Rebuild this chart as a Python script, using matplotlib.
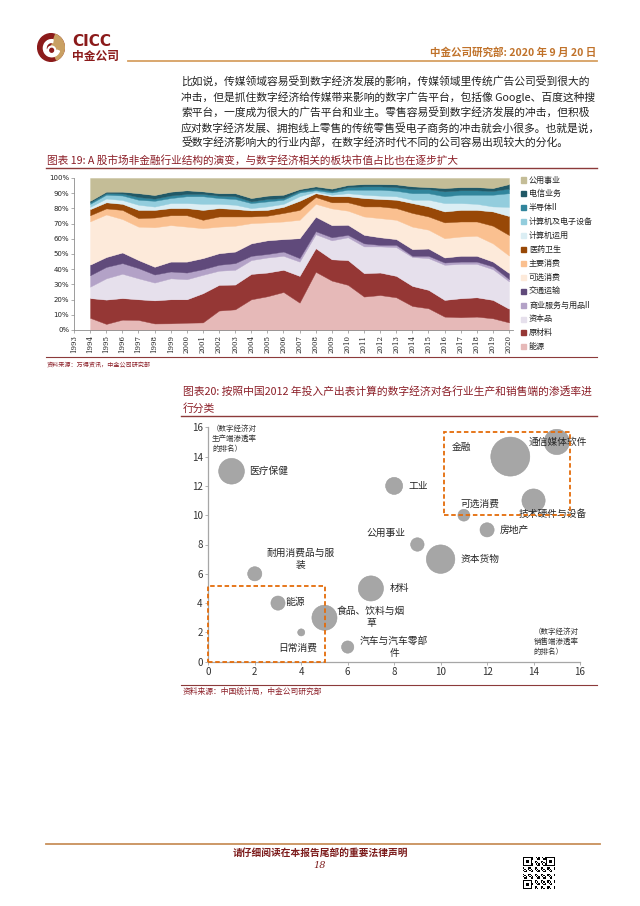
import numpy as np
import matplotlib.pyplot as plt
from matplotlib.patches import Rectangle, Circle, Wedge
from matplotlib.lines import Line2D

plt.rcParams['font.family'] = ['Noto Sans CJK SC', 'DejaVu Sans']

# 页面尺寸 (像素)
W, H = 640, 906
RED = '#8C1F28'
TXT = '#222222'

# ---------------- 图表19 数据: 各行业市值占比的累计上沿 (%) ----------------
years = list(range(1994, 2021))
industries = ['能源', '原材料', '资本品', '商业服务与用品II', '交通运输', '可选消费', '主要消费',
              '医药卫生', '计算机运用', '计算机及电子设备', '半导体II', '电信业务', '公用事业']
top_energy = [8, 4, 6.8, 6.6, 4.3, 4.4, 4.8, 5, 12.8, 13.6, 20.2, 22.2, 25, 18, 38.3, 32.5, 29.7,
              22, 23, 21.5, 15.8, 14.3, 8.8, 8.4, 8.8, 7.7, 5]
top_materials = [21, 20, 21, 20.2, 19.5, 20.2, 20.2, 24.2, 29.7, 29.9, 36.9, 37.8, 39.6, 35.6, 53.8,
                 46.5, 46, 37.4, 37.8, 35.6, 29, 26.4, 19.8, 20.9, 21.5, 19.8, 14]
top_capital = [28.5, 34, 37, 34, 31.2, 34, 33.4, 36.3, 39, 39.6, 46, 47.7, 48.8, 45, 63, 59, 61,
               55, 55, 54.5, 48, 47.3, 42.9, 43.5, 43.5, 40, 32]
top_commercial = [36, 41.5, 44, 40.7, 36.5, 38.5, 37.8, 40, 42.9, 44, 48.8, 50, 51.6, 47.3, 65, 61,
                  62.6, 57, 56, 56, 48.8, 48.8, 44.4, 45, 45, 41.8, 33.5]
top_transport = [43, 48, 51, 46, 41.6, 45, 45, 47.3, 50.5, 51.6, 57, 59, 59.8, 60.4, 74.5, 69, 69.2,
                 62.6, 61, 59.8, 53.2, 53.6, 47.7, 48.8, 48.8, 45, 37.5]
top_discretionary = [71.5, 76, 73, 68, 67.6, 69, 68, 67, 68, 68.6, 70.3, 70.8, 71.4, 72.5, 83, 80,
                     78.5, 74.7, 73.6, 72.5, 68, 66, 60.4, 61.5, 62, 57, 49]
top_staples = [75.5, 80, 79, 73.6, 74, 75.5, 75.5, 72.5, 74.7, 74.7, 74.7, 75.2, 77, 79, 87.5, 84,
               84, 81.3, 81.3, 80.2, 77, 74.7, 70.8, 71.4, 71.4, 68.6, 62.5]
top_health = [79.5, 84, 83, 79, 79, 80.2, 80.2, 79, 80.2, 79.6, 78.7, 79, 81, 85, 90, 88, 88, 86.8,
              86.2, 85.7, 83.5, 81.3, 78, 79, 79, 78, 75]
top_software = [81, 86.5, 85.5, 82.4, 81.2, 83.5, 83.5, 83, 83, 82.4, 80.2, 81.3, 83, 88, 91, 89, 90,
                89, 88.4, 88, 85.7, 85.7, 83.5, 83.5, 83, 81.3, 81]
top_hardware = [83, 89, 88.5, 85.7, 85, 86.8, 88, 88, 86.8, 86.2, 83.5, 84.6, 85.7, 90.5, 92, 90.5,
                92.3, 92.3, 92.3, 91.6, 90, 90, 88, 89, 89, 89, 90]
top_semi = [84, 90, 89.8, 87.5, 86.4, 88.5, 89.5, 89.5, 88.4, 88, 84.6, 86.2, 86.8, 91.6, 93, 91.5,
            94, 94.5, 94.5, 94, 92.7, 92.7, 91.2, 91.9, 91.9, 91.5, 93]
top_telecom = [85, 91, 91, 90, 88.8, 91, 91.9, 91.2, 90, 90, 86.8, 88.4, 89, 92.7, 94.5, 93, 95.4,
               96, 96, 95.8, 94.5, 94, 93.4, 94, 94, 93.4, 96]
top_utilities = [100] * 27
tops = [top_energy, top_materials, top_capital, top_commercial, top_transport, top_discretionary,
        top_staples, top_health, top_software, top_hardware, top_semi, top_telecom, top_utilities]
colors = ['#E6B9B8', '#953735', '#E6E0EC', '#B3A2C7', '#604A7B', '#FDEADA', '#FAC090',
          '#984807', '#DBEEF4', '#93CDDD', '#31859C', '#215967', '#C4BD97']

# ---------------- 图表20 数据 ----------------
bubble_names = ['医疗保健', '耐用消费品与服装', '能源', '日常消费', '食品、饮料与烟草', '汽车与汽车零部件',
                '材料', '工业', '公用事业', '资本货物', '可选消费', '房地产', '金融', '技术硬件与设备',
                '通信媒体软件']
rank_sales = [1, 2, 3, 4, 5, 6, 7, 8, 9, 10, 11, 12, 13, 14, 15]
rank_prod = [13, 6, 4, 2, 3, 1, 5, 12, 8, 7, 10, 9, 14, 11, 15]
bubble_val = [66, 20, 20, 5, 63, 15, 63, 29, 18, 81, 14, 20, 152, 54, 64]


def fx(x):
    return x / W


def fy(y):
    return 1 - y / H


fig = plt.figure(figsize=(W / 100, H / 100), dpi=100)


def ftext(x, y, s, **kw):
    fig.text(fx(x), fy(y), s, **kw)


def fline(x0, x1, y, color, lw=1.0):
    fig.add_artist(Line2D([fx(x0), fx(x1)], [fy(y), fy(y)], color=color, lw=lw))


def add_ax(left, top, right, bottom):
    return fig.add_axes([fx(left), fy(bottom), (right - left) / W, (bottom - top) / H])


# ---------------- 页眉 ----------------
logo = add_ax(37, 33, 65, 62)
logo.add_patch(Circle((0, 0), 1, color='#8B1A1A'))
logo.add_patch(Wedge((0, 0), 1, -65, 70, color='#C9A063'))
logo.add_patch(Wedge((0.05, -0.05), 0.62, 80, 340, width=0.2, color='white'))
logo.add_patch(Circle((0.05, -0.2), 0.3, color='white'))
logo.add_patch(Circle((0.05, -0.2), 0.14, color='#8B1A1A'))
logo.set_xlim(-1.05, 1.05)
logo.set_ylim(-1.05, 1.05)
logo.axis('off')
ftext(72, 41, 'CICC', fontsize=11, fontweight='bold', color='#8B1A1A', va='center',
      family='DejaVu Sans')
ftext(72, 56, '中金公司', fontsize=8.5, fontweight='bold', color='#8B1A1A', va='center')
ftext(596, 52, '中金公司研究部: 2020 年 9 月 20 日', fontsize=7.6, fontweight='bold',
      color='#C0722A', ha='right', va='center')
fline(128, 597, 61, '#D7A062', 1.3)

# ---------------- 正文 ----------------
para = ['比如说，传媒领域容易受到数字经济发展的影响，传媒领域里传统广告公司受到很大的',
        '冲击，但是抓住数字经济给传媒带来影响的数字广告平台，包括像 Google、百度这种搜',
        '索平台，一度成为很大的广告平台和业主。零售容易受到数字经济发展的冲击，但积极',
        '应对数字经济发展、拥抱线上零售的传统零售受电子商务的冲击就会小很多。也就是说，',
        '受数字经济影响大的行业内部，在数字经济时代不同的公司容易出现较大的分化。']
for i, line in enumerate(para):
    ftext(181, 82 + i * 15.3, line, fontsize=7.75, color=TXT, va='center')

# ---------------- 图表19 ----------------
ftext(47, 160, '图表 19: A 股市场非金融行业结构的演变，与数字经济相关的板块市值占比也在逐步扩大',
      fontsize=7.7, color=RED, va='center')
fline(46, 597, 168, '#8C3A3A', 1.0)

ax1 = add_ax(74, 178, 513, 330)
lower = np.zeros(len(years))
for top, c in zip(tops, colors):
    ax1.fill_between(years, lower, top, facecolor=c, edgecolor=c, lw=0.3)
    lower = np.array(top, dtype=float)
ax1.set_xlim(1993, 2020.25)
ax1.set_ylim(0, 100)
ax1.set_xticks(range(1993, 2021))
ax1.set_xticklabels([str(y) for y in range(1993, 2021)], rotation=90, fontsize=5,
                    family='DejaVu Serif')
ax1.set_yticks(range(0, 101, 10))
ax1.set_yticklabels([f'{v}%' for v in range(0, 101, 10)], fontsize=5, family='DejaVu Sans')
for s in ['top', 'right']:
    ax1.spines[s].set_visible(False)
for s in ['left', 'bottom']:
    ax1.spines[s].set_color('#8C8C8C')
    ax1.spines[s].set_linewidth(0.6)
ax1.tick_params(length=2, width=0.5, color='#8C8C8C', pad=1.5, labelcolor='#222222')

# 图例 (从上到下与堆叠顺序相反)
for k, (name, c) in enumerate(zip(industries[::-1], colors[::-1])):
    y = 180 + k * 13.9
    fig.add_artist(Rectangle((fx(521), fy(y + 2.5)), 5 / W, 5 / H, color=c))
    ftext(529, y, name, fontsize=5.8, color=TXT, va='center')

fline(46, 597, 357, '#8C3A3A', 0.8)
ftext(47, 365, '资料来源：万得资讯，中金公司研究部', fontsize=4.4, color=RED, va='center')

# ---------------- 图表20 ----------------
ftext(183, 391, '图表20: 按照中国2012 年投入产出表计算的数字经济对各行业生产和销售端的渗透率进',
      fontsize=7.75, color=RED, va='center')
ftext(183, 408, '行分类', fontsize=7.75, color=RED, va='center')
fline(181, 597, 416, '#8C3A3A', 1.0)

ax2 = add_ax(208.3, 427.3, 580, 661.7)
sizes = [(v * 10) * 0.72 ** 2 for v in bubble_val]
ax2.scatter(rank_sales, rank_prod, s=sizes, color='#A6A6A6', edgecolors='#9A9A9A',
            linewidths=0.4, zorder=3, clip_on=False)
ax2.set_xlim(0, 16)
ax2.set_ylim(0, 16)
ax2.set_xticks(range(0, 17, 2))
ax2.set_yticks(range(0, 17, 2))
ax2.tick_params(labelsize=7, length=2, width=0.6, color='#A6A6A6', labelcolor='#333333', pad=2)
for s in ['top', 'right']:
    ax2.spines[s].set_visible(False)
for s in ['left', 'bottom']:
    ax2.spines[s].set_color('#A6A6A6')
    ax2.spines[s].set_linewidth(0.9)

labels = [('医疗保健', 1.75, 13, 'left'), ('耐用消费品与服\n装', 3.96, 7.05, 'center'),
          ('能源', 3.3, 4.05, 'left'), ('日常消费', 3.87, 0.93, 'center'),
          ('食品、饮料与烟\n草', 7.0, 3.05, 'center'), ('汽车与汽车零部\n件', 8.0, 1.0, 'center'),
          ('材料', 7.8, 5.0, 'left'), ('工业', 8.6, 12, 'left'),
          ('公用事业', 7.66, 8.77, 'center'), ('资本货物', 10.85, 7, 'left'),
          ('可选消费', 11.7, 10.75, 'center'), ('房地产', 12.55, 9.0, 'left'),
          ('金融', 10.9, 14.65, 'center'), ('技术硬件与设备', 13.34, 10.05, 'left'),
          ('通信媒体软件', 13.8, 15.0, 'left')]
for txt, x, y, ha in labels:
    ax2.text(x, y, txt, fontsize=7, color='#262626', ha=ha, va='center', linespacing=1.25,
             zorder=4)

ax2.text(0.16, 16.15, '（数字经济对\n生产端渗透率\n的排名）', fontsize=5.4, color='#333333',
         va='top', linespacing=1.35)
ax2.text(14.0, 2.3, '（数字经济对\n销售端渗透率\n的排名）', fontsize=5.4, color='#333333',
         va='top', linespacing=1.35)

for x0, y0, w, h in [(0, 0, 5.03, 5.16), (10.13, 10.0, 5.43, 5.68)]:
    ax2.add_patch(Rectangle((x0, y0), w, h, fill=False, edgecolor='#E46C0A', lw=1.3,
                            ls=(0, (2.5, 1.5)), clip_on=False, zorder=5))

fline(181, 597, 685, '#8C3A3A', 0.8)
ftext(183, 692, '资料来源：中国统计局，中金公司研究部', fontsize=5.6, color=RED, va='center')

# ---------------- 页脚 ----------------
fline(46, 600, 844, '#C8905A', 1.3)
ftext(320, 853, '请仔细阅读在本报告尾部的重要法律声明', fontsize=7, fontweight='bold', color='#7B1A1A',
      ha='center', va='center')
ftext(320, 866, '18', fontsize=7, color='#7B1A1A', ha='center', va='center', style='italic',
      family='DejaVu Serif')

# 二维码 (装饰)
n = 25
qr = np.zeros((n, n))
for i in range(n):
    for j in range(n):
        qr[i, j] = 1 if (i * 7 + j * 13 + i * j) % 5 < 2 else 0
for (r, c) in [(0, 0), (0, n - 7), (n - 7, 0)]:
    qr[r:r + 7, c:c + 7] = 1
    qr[r + 1:r + 6, c + 1:c + 6] = 0
    qr[r + 2:r + 5, c + 2:c + 5] = 1
qax = add_ax(523, 857, 555, 889)
qax.imshow(qr, cmap='Greys', interpolation='nearest')
qax.axis('off')

fig.savefig('out.png', dpi=100)
